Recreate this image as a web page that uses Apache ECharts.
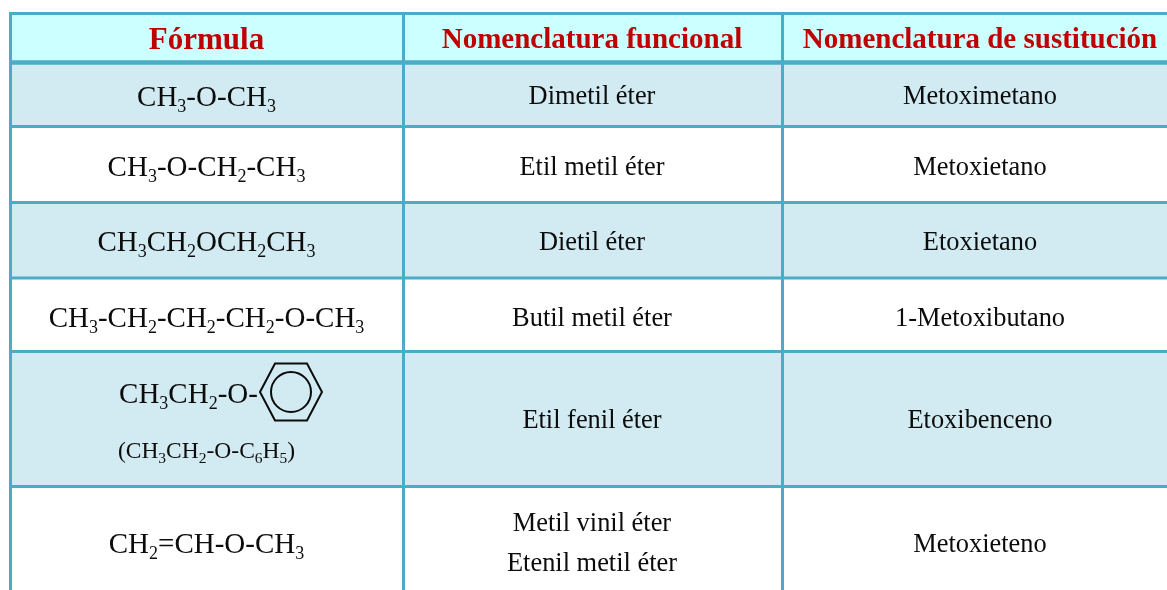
<!DOCTYPE html>
<html><head><meta charset="utf-8">
<style>html,body{margin:0;padding:0;background:#fff}#c{width:1167px;height:590px}</style>
<script src="https://cdn.jsdelivr.net/npm/echarts@6/dist/echarts.min.js"></script>
</head><body><div id="c"></div>
<script>
const headers = ['Fórmula', 'Nomenclatura funcional', 'Nomenclatura de sustitución'];
const headerSizes = [31, 29, 29];
const formulas = ['CH_3-O-CH_3', 'CH_3-O-CH_2-CH_3', 'CH_3CH_2OCH_2CH_3', 'CH_3-CH_2-CH_2-CH_2-O-CH_3', 'CH_3CH_2-O-', 'CH_2=CH-O-CH_3'];
const altFormula = '(CH_3CH_2-O-C_6H_5)';
const functional = ['Dimetil éter', 'Etil metil éter', 'Dietil éter', 'Butil metil éter', 'Etil fenil éter', 'Metil vinil éter\nEtenil metil éter'];
const substitution = ['Metoximetano', 'Metoxietano', 'Etoxietano', '1-Metoxibutano', 'Etoxibenceno', 'Metoxieteno'];

const colLines = [10.5, 403.5, 782.5];
const rowLines = [13.5, 62.5, 126.5, 202.5, 278, 351.5, 486.5];
const colCenters = [206.5, 592, 980];
const rowCenters = [97, 168, 243, 319, 421, 545];
const formulaCenters = [98, 168, 243, 319, 395, 545];
const headerCenter = 40.5;
const LINE = '#4BACC6', HEAD = '#CCFFFF', BAND = '#D2EAF1', RED = '#C00000', INK = '#0c0c0c';
const FONT = '"Liberation Serif","Times New Roman",serif';

function chem(s) {
  return s.replace(/_(\d)/g, '\u0001$1\u0002').split(/(\u0001\d\u0002)/).filter(Boolean).map(function (p) {
    return p[0] === '\u0001' ? '{s|' + p[1] + '}' : '{b|' + p + '}';
  }).join('');
}
function chemRich(size, sub) {
  return {
    b: { fontFamily: FONT, fontSize: size, lineHeight: size + 7, fill: INK, color: INK },
    s: { fontFamily: FONT, fontSize: sub, lineHeight: sub, verticalAlign: 'bottom', fill: INK, color: INK }
  };
}
function txt(api, x, y, text, size, extra) {
  const p = api.coord([x, y]);
  return { type: 'text', style: Object.assign({ x: p[0], y: p[1], text: text, align: 'center', verticalAlign: 'middle', font: size + 'px ' + FONT, fill: INK }, extra || {}) };
}
function seg(api, a, b, c, w) {
  const p = api.coord(a), q = api.coord(b);
  return { type: 'line', shape: { x1: p[0], y1: p[1], x2: q[0], y2: q[1] }, style: { stroke: c, lineWidth: w } };
}
const bandIdx = [0, 1, 2, 3, 4, 5];
const chart = echarts.init(document.getElementById('c'), null, { renderer: 'canvas' });
chart.setOption({
  animation: false,
  backgroundColor: '#fff',
  grid: { left: 0, right: 0, top: 0, bottom: 0 },
  xAxis: { type: 'value', min: 0, max: 1167, show: false },
  yAxis: { type: 'value', min: 0, max: 590, inverse: true, show: false },
  tooltip: { show: false },
  series: [{
    type: 'custom', silent: true, clip: false, z: 1,
    data: [[0]],
    encode: { x: 0 },
    renderItem: function (params, api) {
      const kids = [];
      function band(y0, y1, fill) {
        const p = api.coord([colLines[0], y0]), q = api.coord([1167, y1]);
        kids.push({ type: 'rect', shape: { x: p[0], y: p[1], width: q[0] - p[0], height: q[1] - p[1] }, style: { fill: fill } });
      }
      band(rowLines[0], rowLines[1], HEAD);
      bandIdx.forEach(function (i) { if (i % 2 === 0) band(rowLines[i + 1], rowLines[i + 2], BAND); });
      rowLines.forEach(function (y, i) { kids.push(seg(api, [colLines[0] - 1.5, y], [1167, y], LINE, i === 1 ? 4.5 : 3)); });
      colLines.forEach(function (x) { kids.push(seg(api, [x, rowLines[0]], [x, 590], LINE, 3)); });
      return { type: 'group', children: kids };
    }
  }, {
    type: 'custom', silent: true, clip: false, z: 2,
    data: [[0]],
    encode: { x: 0 },
    renderItem: function (params, api) {
      const kids = [];
      headers.forEach(function (h, c) {
        kids.push(txt(api, colCenters[c], headerCenter, h, headerSizes[c], { font: 'bold ' + headerSizes[c] + 'px ' + FONT, fill: RED }));
      });
      formulas.forEach(function (f, r) {
        const x = r === 4 ? 188.5 : colCenters[0];
        kids.push(txt(api, x, formulaCenters[r], chem(f), 29, { rich: chemRich(29, 18) }));
      });
      kids.push(txt(api, colCenters[0], 452, chem(altFormula), 23.5, { rich: chemRich(23.5, 15.5) }));
      functional.forEach(function (t, r) {
        const lines = t.split('\n');
        if (lines.length > 1) {
          kids.push(txt(api, colCenters[1], rowCenters[r] - 21, lines[0], 26.4));
          kids.push(txt(api, colCenters[1], rowCenters[r] + 19, lines[1], 26.4));
        } else kids.push(txt(api, colCenters[1], rowCenters[r], t, 26.4));
      });
      substitution.forEach(function (t, r) { kids.push(txt(api, colCenters[2], rowCenters[r], t, 26.4)); });
      // benzene ring glyph beside the ether oxygen in row 5
      const c = api.coord([291, 392]);
      const hex = [[-31, 0], [-16, -28.5], [16, -28.5], [31, 0], [16, 28.5], [-16, 28.5]].map(function (d) { return [c[0] + d[0], c[1] + d[1]]; });
      kids.push({ type: 'polygon', shape: { points: hex }, style: { fill: 'none', stroke: INK, lineWidth: 2 } });
      kids.push({ type: 'circle', shape: { cx: c[0], cy: c[1], r: 20 }, style: { fill: 'none', stroke: INK, lineWidth: 2 } });
      return { type: 'group', children: kids };
    }
  }]
});
</script></body></html>
